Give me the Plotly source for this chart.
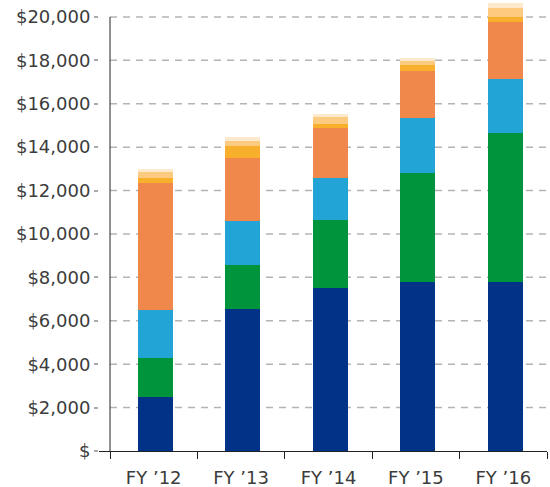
import plotly.graph_objects as go

categories = ["FY \u201912", "FY \u201913", "FY \u201914", "FY \u201915", "FY \u201916"]

seg_navy = [2500, 6550, 7500, 7800, 7800]
seg_green = [1800, 2000, 3150, 5000, 6850]
seg_blue = [2200, 2050, 1950, 2550, 2500]
seg_orange = [5850, 2920, 2260, 2150, 2620]
seg_gold = [230, 520, 200, 280, 230]
seg_peach = [260, 230, 320, 190, 420]
seg_cream = [160, 210, 160, 140, 230]

tick_vals = [0, 2000, 4000, 6000, 8000, 10000, 12000, 14000, 16000, 18000, 20000]
tick_text = ["$", "$2,000", "$4,000", "$6,000", "$8,000", "$10,000", "$12,000",
             "$14,000", "$16,000", "$18,000", "$20,000"]

series = [
    ("Segment 1", seg_navy, "#003387"),
    ("Segment 2", seg_green, "#00953c"),
    ("Segment 3", seg_blue, "#22a5d6"),
    ("Segment 4", seg_orange, "#f0874b"),
    ("Segment 5", seg_gold, "#f8b02c"),
    ("Segment 6", seg_peach, "#fccb80"),
    ("Segment 7", seg_cream, "#fde9cc"),
]

fig = go.Figure()
for name, vals, color in series:
    fig.add_trace(go.Bar(x=categories, y=vals, name=name, marker_color=color,
                         marker_line_width=0, width=0.4, offset=-0.18))

shapes = []
for v in tick_vals[1:]:
    shapes.append(dict(type="line", xref="x", yref="y", x0=-0.5, x1=4.5, y0=v, y1=v,
                       line=dict(color="#b4b4b4", width=1.5, dash="7px,6px"), layer="below"))
shapes.append(dict(type="line", xref="x", yref="y", x0=-0.5, x1=-0.5, y0=0, y1=tick_vals[-1],
                   line=dict(color="#222222", width=1), layer="above"))

fig.update_layout(
    barmode="stack",
    width=550, height=487,
    margin=dict(l=99, r=3, t=0, b=36, autoexpand=False),
    plot_bgcolor="white", paper_bgcolor="white",
    showlegend=False,
    shapes=shapes,
    font=dict(family="DejaVu Sans", size=18, color="#3c3c3c"),
)
fig.update_xaxes(
    range=[-0.626, 4.5], showline=True, linecolor="#222222", linewidth=1,
    ticks="outside", tickson="boundaries", ticklen=7, tickcolor="#222222",
    showgrid=False, tickfont=dict(size=18, color="#3c3c3c"), ticklabelstandoff=10,
)
fig.update_yaxes(
    range=[0, 20780], showline=False, showgrid=False, zeroline=False,
    tickvals=tick_vals, ticktext=tick_text, ticks="outside", ticklen=4,
    tickcolor="#aaaaaa", tickwidth=1.5, tickfont=dict(size=18, color="#3c3c3c"),
)

fig.write_html("out.html", config={"displayModeBar": False},
               post_script="document.body.style.margin='0';")
